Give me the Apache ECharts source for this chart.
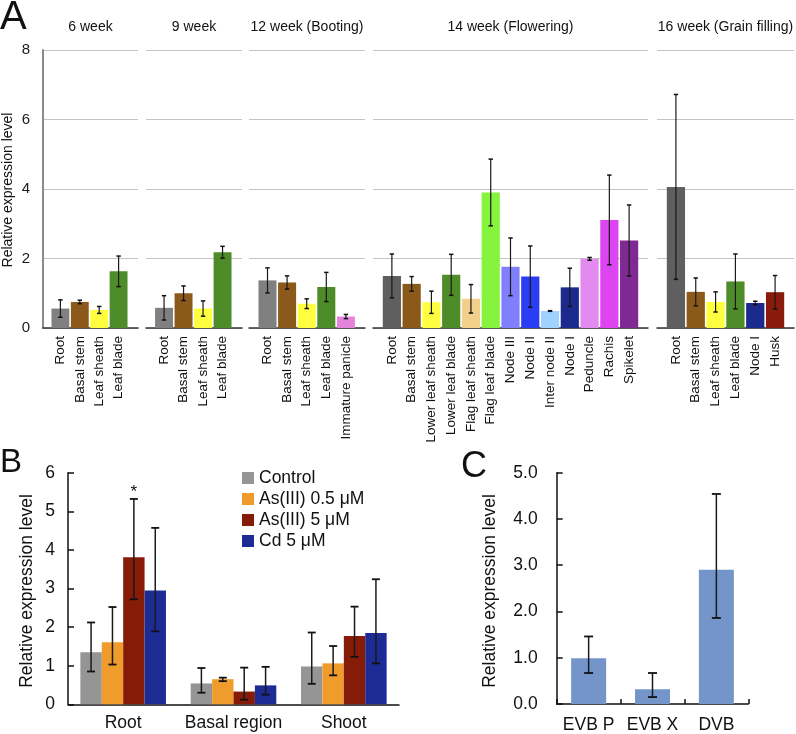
<!DOCTYPE html>
<html><head><meta charset="utf-8">
<script src="https://cdn.jsdelivr.net/npm/echarts/dist/echarts.min.js"></script>
<style>html,body{margin:0;padding:0;background:#fff}#c{width:796px;height:734px}</style>
</head><body><div id="c"></div>
<script>
// ================= DATA =================
// Panel A
const A_titles = ["6 week", "9 week", "12 week (Booting)", "14 week (Flowering)", "16 week (Grain filling)"];
const A_tissues = [
  ["Root", "Basal stem", "Leaf sheath", "Leaf blade"],
  ["Root", "Basal stem", "Leaf sheath", "Leaf blade"],
  ["Root", "Basal stem", "Leaf sheath", "Leaf blade", "Immature panicle"],
  ["Root", "Basal stem", "Lower leaf sheath", "Lower leaf blade", "Flag leaf sheath", "Flag leaf blade",
   "Node III", "Node II", "Inter node II", "Node I", "Peduncle", "Rachis", "Spikelet"],
  ["Root", "Basal stem", "Leaf sheath", "Leaf blade", "Node I", "Husk"]
];
const A_values = [
  [0.56, 0.75, 0.52, 1.63],
  [0.58, 1.00, 0.56, 2.18],
  [1.37, 1.31, 0.70, 1.18, 0.33],
  [1.50, 1.27, 0.74, 1.53, 0.84, 3.90, 1.76, 1.48, 0.49, 1.17, 1.99, 3.11, 2.52],
  [4.06, 1.04, 0.75, 1.34, 0.72, 1.03]
];
const A_errors = [
  [0.25, 0.05, 0.10, 0.44],
  [0.35, 0.21, 0.22, 0.17],
  [0.36, 0.19, 0.14, 0.42, 0.06],
  [0.63, 0.21, 0.32, 0.59, 0.41, 0.96, 0.83, 0.88, 0.01, 0.55, 0.04, 1.29, 1.02],
  [2.66, 0.40, 0.29, 0.79, 0.05, 0.48]
];
const A_yTicks = [0, 2, 4, 6, 8];
const A_yTitle = "Relative expression level";

// Panel B
const B_categories = ["Root", "Basal region", "Shoot"];
const B_treatments = ["Control", "As(III) 0.5 μM", "As(III) 5 μM", "Cd 5 μM"];
const B_values = [[1.35, 0.54, 0.98], [1.61, 0.65, 1.06], [3.81, 0.33, 1.77], [2.95, 0.49, 1.85]];
const B_low    = [[0.85, 0.30, 0.53], [1.03, 0.60, 0.75], [2.72, 0.12, 1.23], [1.89, 0.25, 1.06]];
const B_high   = [[2.12, 0.94, 1.86], [2.52, 0.69, 1.51], [5.32, 0.95, 2.53], [4.57, 0.97, 3.24]];
const B_sig    = [["", "", ""], ["", "", ""], ["*", "", ""], ["", "", ""]];
const B_yTitle = "Relative expression level";

// Panel C
const C_categories = ["EVB P", "EVB X", "DVB"];
const C_values = [0.99, 0.32, 2.90];
const C_low    = [0.67, 0.15, 1.86];
const C_high   = [1.46, 0.67, 4.54];
const C_yTitle = "Relative expression level";

// ================= STYLE / LAYOUT =================
const FONT = '"Liberation Sans", Arial, Helvetica, sans-serif';
const A_colors = [
  ['#808080', '#8b5a1b', '#ffff40', '#4e8c29'],
  ['#808080', '#8b5a1b', '#ffff40', '#4e8c29'],
  ['#808080', '#8b5a1b', '#ffff40', '#4e8c29', '#e383dc'],
  ['#5f5f5f', '#8b5a1b', '#ffff40', '#4e8c29', '#f2d08c', '#86f43c', '#8080ff', '#2b3cf5', '#a0d2ff', '#1c2a8e', '#e38af0', '#dd45f2', '#7e2a92'],
  ['#5f5f5f', '#8b5a1b', '#ffff40', '#4e8c29', '#1c2a8e', '#8a1a0c']
];
const B_colors = ['#959595', '#ef9c2c', '#861c08', '#1c2c94'];
const C_color = '#7395ca';

const A_frame = [[43, 138], [146, 242], [249, 365], [373, 648], [657, 794]];
const A_inner = [[50.7, 128.3], [154.3, 232.3], [257.7, 355.7], [382, 639], [666, 785]];
const A_top = 50, A_h = 278;

const grids = [], xAxes = [], yAxes = [], series = [];
const yMaxA = A_yTicks[A_yTicks.length - 1];
const yIntA = A_yTicks[1] - A_yTicks[0];

function errItem(capHalf, lw, offset, sigArr) {
  return function (params, api) {
    const i = api.value(0);
    const x = api.coord([i, 0])[0] + (offset || 0);
    const yHi = api.coord([i, api.value(2)])[1];
    const yLo = api.coord([i, api.value(1)])[1];
    const children = [
      { type: 'line', shape: { x1: x, y1: yHi, x2: x, y2: yLo }, style: { stroke: '#1a1a1a', lineWidth: lw } },
      { type: 'line', shape: { x1: x - capHalf, y1: yHi, x2: x + capHalf, y2: yHi }, style: { stroke: '#111', lineWidth: lw + 0.3 } },
      { type: 'line', shape: { x1: x - capHalf, y1: yLo, x2: x + capHalf, y2: yLo }, style: { stroke: '#111', lineWidth: lw + 0.3 } }
    ];
    if (sigArr && sigArr[params.dataIndex]) {
      children.push({ type: 'text', x: x, y: yHi - 7, style: { text: sigArr[params.dataIndex], fontSize: 17, fontFamily: FONT, fill: '#111', align: 'center', verticalAlign: 'middle' } });
    }
    return { type: 'group', children };
  };
}

for (let p = 0; p < 5; p++) {
  const gf = grids.length;
  grids.push({ left: A_frame[p][0], top: A_top, width: A_frame[p][1] - A_frame[p][0], height: A_h });
  xAxes.push({ gridIndex: gf, type: 'value', min: 0, max: 1,
    axisLine: { show: true, lineStyle: { color: '#333', width: 1.5 } },
    axisTick: { show: false }, axisLabel: { show: false }, splitLine: { show: false } });
  yAxes.push({ gridIndex: gf, type: 'value', min: 0, max: yMaxA, interval: yIntA,
    axisLine: { show: p === 0, lineStyle: { color: '#8a8a8a', width: 2 } },
    axisTick: { show: false },
    axisLabel: { show: p === 0, fontSize: 15, fontFamily: FONT, color: '#1a1a1a', margin: 13 },
    splitLine: { show: true, lineStyle: { color: '#c4c4c4', width: 1 } } });
  const gb = grids.length;
  grids.push({ left: A_inner[p][0], top: A_top, width: A_inner[p][1] - A_inner[p][0], height: A_h });
  xAxes.push({ gridIndex: gb, type: 'category', data: A_tissues[p],
    axisLine: { show: false }, axisTick: { show: false },
    axisLabel: { rotate: 90, interval: 0, hideOverlap: false, fontSize: 13.5, fontFamily: FONT, color: '#111', margin: 8 } });
  yAxes.push({ gridIndex: gb, type: 'value', min: 0, max: yMaxA, show: false });
  series.push({ type: 'bar', xAxisIndex: gb, yAxisIndex: gb, barCategoryGap: '8%',
    data: A_values[p].map((v, i) => ({ value: v, itemStyle: { color: A_colors[p][i] } })) });
  series.push({ type: 'custom', xAxisIndex: gb, yAxisIndex: gb, z: 5,
    renderItem: errItem(2.2, 1.2, 0),
    encode: { x: 0, y: [1, 2] },
    data: A_values[p].map((v, i) => [i, v - A_errors[p][i], v + A_errors[p][i]]) });
}

// Panel B
const gB = grids.length;
grids.push({ left: 68, top: 472.7, width: 331, height: 231.6 });
xAxes.push({ gridIndex: gB, type: 'category', data: B_categories,
  axisLine: { show: true, lineStyle: { color: '#111', width: 1.5 } },
  axisTick: { show: false },
  axisLabel: { interval: 0, hideOverlap: false, fontSize: 17.5, fontFamily: FONT, color: '#111', margin: 10 } });
yAxes.push({ gridIndex: gB, type: 'value', min: 0, max: 6, interval: 1,
  axisLine: { show: true, lineStyle: { color: '#111', width: 1.5 } },
  axisTick: { show: true, inside: true, length: 6, lineStyle: { color: '#111', width: 1.5 } },
  axisLabel: { fontSize: 17.5, fontFamily: FONT, color: '#111', margin: 13 },
  splitLine: { show: false } });
const B_barW = 21.4;
B_treatments.forEach((name, s) => {
  series.push({ type: 'bar', name: name, xAxisIndex: gB, yAxisIndex: gB, barWidth: B_barW, barGap: '0%',
    itemStyle: { color: B_colors[s] }, data: B_values[s] });
});
B_treatments.forEach((name, s) => {
  series.push({ type: 'custom', xAxisIndex: gB, yAxisIndex: gB, z: 5,
    renderItem: errItem(4, 1.5, (s - 1.5) * B_barW, B_sig[s]),
    encode: { x: 0, y: [1, 2] },
    data: B_categories.map((c, i) => [i, B_low[s][i], B_high[s][i]]) });
});

// Panel C
const gC = grids.length;
grids.push({ left: 556.7, top: 472.7, width: 191.6, height: 231.6 });
xAxes.push({ gridIndex: gC, type: 'category', data: C_categories,
  axisLine: { show: true, lineStyle: { color: '#111', width: 1.5 } },
  axisTick: { show: true, inside: true, length: 5, interval: 0, lineStyle: { color: '#111', width: 1.5 } },
  axisLabel: { interval: 0, hideOverlap: false, fontSize: 17.5, fontFamily: FONT, color: '#111', margin: 12 } });
yAxes.push({ gridIndex: gC, type: 'value', min: 0, max: 5, interval: 1,
  axisLine: { show: true, lineStyle: { color: '#111', width: 1.5 } },
  axisTick: { show: true, inside: true, length: 6, lineStyle: { color: '#111', width: 1.5 } },
  axisLabel: { fontSize: 17.5, fontFamily: FONT, color: '#111', margin: 19, formatter: v => v.toFixed(1) },
  splitLine: { show: false } });
series.push({ type: 'bar', xAxisIndex: gC, yAxisIndex: gC, barWidth: 35, itemStyle: { color: C_color }, data: C_values });
series.push({ type: 'custom', xAxisIndex: gC, yAxisIndex: gC, z: 5,
  renderItem: errItem(4.5, 1.5, 0),
  encode: { x: 0, y: [1, 2] },
  data: C_categories.map((c, i) => [i, C_low[i], C_high[i]]) });

// Text graphics
const graphics = [];
function txt(text, x, y, size, opts) {
  opts = opts || {};
  graphics.push({ type: 'text', x: x, y: y, rotation: opts.rot || 0, z: 100,
    style: { text: text, fontSize: size, fontFamily: FONT, fill: '#111', align: opts.align || 'center', verticalAlign: 'middle' } });
}
txt('A', 0, 18, 40, { align: 'left' });
A_titles.forEach((t, p) => txt(t, (A_frame[p][0] + A_frame[p][1]) / 2, 27, 14));
txt(A_yTitle, 8, 190, 14, { rot: Math.PI / 2 });
txt('B', 0, 463, 33, { align: 'left' });
txt(B_yTitle, 27, 591, 17.5, { rot: Math.PI / 2 });
txt('C', 461, 467, 36, { align: 'left' });
txt(C_yTitle, 490, 591, 17.5, { rot: Math.PI / 2 });

const chart = echarts.init(document.getElementById('c'), null, { renderer: 'canvas' });
chart.setOption({
  animation: false,
  backgroundColor: '#fff',
  textStyle: { fontFamily: FONT },
  grid: grids, xAxis: xAxes, yAxis: yAxes, series: series,
  legend: { data: B_treatments, orient: 'vertical', left: 237, top: 464, icon: 'rect',
    itemWidth: 12, itemHeight: 12, itemGap: 3, selectedMode: false,
    textStyle: { fontSize: 17.5, fontFamily: FONT, color: '#111' } },
  graphic: graphics
});
</script>
</body></html>
